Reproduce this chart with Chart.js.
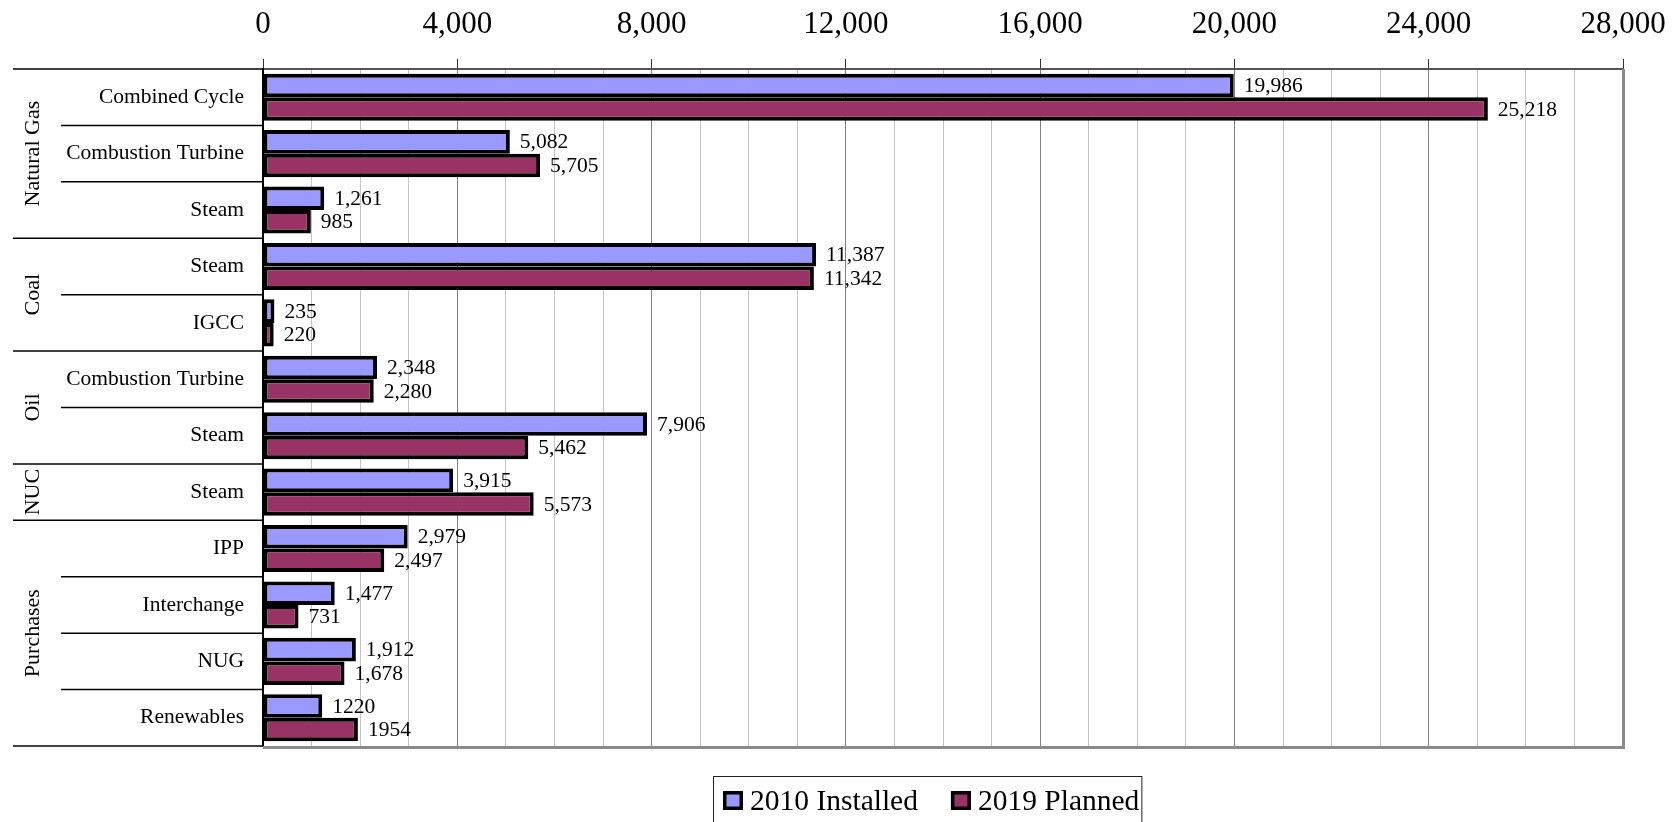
<!DOCTYPE html>
<html>
<head>
<meta charset="utf-8">
<script src="https://cdn.jsdelivr.net/npm/chart.js@4/dist/chart.umd.min.js"></script>
<style>
  html, body { margin: 0; padding: 0; background: #fff; overflow: hidden; }
  #wrap { width: 1678px; height: 822px; position: relative; }
</style>
</head>
<body>
<div id="wrap"><canvas id="c"></canvas></div>
<script>
// Capacity by fuel type and technology (MW)
const categories = ['Combined Cycle', 'Combustion Turbine', 'Steam', 'Steam', 'IGCC',
                    'Combustion Turbine', 'Steam', 'Steam', 'IPP', 'Interchange', 'NUG', 'Renewables'];
const groupNames = ['Natural Gas', 'Coal', 'Oil', 'NUC', 'Purchases'];
const groupSizes = [3, 2, 2, 1, 4];
const installed2010 = [19986, 5082, 1261, 11387, 235, 2348, 7906, 3915, 2979, 1477, 1912, 1220];
const planned2019  = [25218, 5705, 985, 11342, 220, 2280, 5462, 5573, 2497, 731, 1678, 1954];
// Renewables values are printed without a thousands separator
const useSeparator = [true, true, true, true, true, true, true, true, true, true, true, false];
const seriesNames = ['2010 Installed', '2019 Planned'];
const labelledTicks = [0, 4000, 8000, 12000, 16000, 20000, 24000, 28000];

const SERIF = "'Liberation Serif', 'Times New Roman', serif";
Chart.defaults.font.family = SERIF;
Chart.defaults.color = '#000';

// Row dividers, group captions and the heavy right/bottom frame
const framePlugin = {
  id: 'framePlugin',
  afterDraw(chart) {
    const { ctx, chartArea: a, scales: { y } } = chart;
    const n = categories.length;
    const boundary = i => i === 0 ? a.top : i === n ? a.bottom
      : (y.getPixelForValue(i - 1) + y.getPixelForValue(i)) / 2;

    const groupEdges = new Set([0]);
    let acc = 0;
    groupSizes.forEach(s => { acc += s; groupEdges.add(acc); });

    ctx.save();
    ctx.strokeStyle = '#000';
    ctx.lineWidth = 1.5;
    for (let k = 0; k <= n; k++) {
      const yy = boundary(k);
      const x0 = groupEdges.has(k) ? 13 : 61;
      ctx.beginPath();
      ctx.moveTo(x0, yy);
      ctx.lineTo(a.left, yy);
      ctx.stroke();
    }

    // group captions, rotated
    ctx.fillStyle = '#000';
    ctx.font = '22px ' + SERIF;
    ctx.textAlign = 'center';
    ctx.textBaseline = 'middle';
    let start = 0;
    groupNames.forEach((name, g) => {
      const end = start + groupSizes[g];
      const cy = (boundary(start) + boundary(end)) / 2;
      ctx.save();
      ctx.translate(33, cy);
      ctx.rotate(-Math.PI / 2);
      ctx.fillText(name, 0, 0);
      ctx.restore();
      start = end;
    });

    // heavy gray frame on right and bottom
    ctx.strokeStyle = '#8a8a8a';
    ctx.lineWidth = 3;
    ctx.beginPath();
    ctx.moveTo(a.right + 0.5, a.top);
    ctx.lineTo(a.right + 0.5, a.bottom + 1.5);
    ctx.lineTo(a.left, a.bottom + 1.5);
    ctx.stroke();
    ctx.restore();
  }
};

// Value printed next to each bar end
const valueLabels = {
  id: 'valueLabels',
  afterDatasetsDraw(chart) {
    const ctx = chart.ctx;
    ctx.save();
    ctx.font = '21.5px ' + SERIF;
    ctx.fillStyle = '#000';
    ctx.textAlign = 'left';
    ctx.textBaseline = 'middle';
    chart.data.datasets.forEach((ds, di) => {
      chart.getDatasetMeta(di).data.forEach((bar, i) => {
        const v = ds.data[i];
        const txt = useSeparator[i] ? v.toLocaleString('en-US') : String(v);
        ctx.fillText(txt, bar.x + 10, bar.y + 1);
      });
    });
    ctx.restore();
  }
};

// Framed legend below the plot
const legendBox = {
  id: 'legendBox',
  afterDraw(chart) {
    const ctx = chart.ctx;
    ctx.save();
    ctx.font = '29.5px ' + SERIF;
    ctx.textBaseline = 'alphabetic';
    const left = 713, top = 776, baseline = 810;
    let x = left + 10;
    chart.data.datasets.forEach((ds, i) => {
      ctx.fillStyle = ds.backgroundColor;
      ctx.fillRect(x, 791, 20, 19);
      ctx.strokeStyle = '#000';
      ctx.lineWidth = 3.5;
      ctx.strokeRect(x + 1.75, 792.75, 16.5, 15.5);
      x += 27;
      ctx.fillStyle = '#000';
      ctx.fillText(ds.label, x, baseline);
      x += ctx.measureText(ds.label).width + (i < chart.data.datasets.length - 1 ? 33 : 0);
    });
    const right = x + 2;
    ctx.strokeStyle = '#222';
    ctx.lineWidth = 1;
    ctx.strokeRect(left + 0.5, top + 0.5, right - left, 70);
    ctx.restore();
  }
};

new Chart(document.getElementById('c'), {
  type: 'bar',
  data: {
    labels: categories,
    datasets: [
      { label: seriesNames[0], data: installed2010, backgroundColor: '#9999FF',
        borderColor: '#000', borderWidth: 4, borderSkipped: false },
      { label: seriesNames[1], data: planned2019, backgroundColor: '#993366',
        borderColor: '#000', borderWidth: 4, borderSkipped: false }
    ]
  },
  options: {
    indexAxis: 'y',
    responsive: true,
    maintainAspectRatio: false,
    animation: false,
    devicePixelRatio: 1,
    layout: { padding: { left: 0, right: 55, top: 0, bottom: 76 } },
    datasets: { bar: { categoryPercentage: 0.835, barPercentage: 1.0 } },
    plugins: {
      legend: { display: false },
      tooltip: { enabled: false }
    },
    scales: {
      x: {
        position: 'top',
        min: 0,
        max: 28000,
        afterFit(scale) {
          scale.height = 69;
          scale.paddingLeft = 0;
          scale.paddingRight = 0;
        },
        ticks: {
          stepSize: 1000,
          autoSkip: false,
          maxRotation: 0,
          padding: 16,
          font: { size: 31 },
          color: '#000',
          callback: v => labelledTicks.includes(v) ? v.toLocaleString('en-US') : ''
        },
        grid: {
          color: ctx => labelledTicks.includes(ctx.tick && ctx.tick.value) ? '#808080' : '#c4c4c4',
          lineWidth: 1,
          tickLength: 10,
          tickColor: ctx => labelledTicks.includes(ctx.tick && ctx.tick.value) ? '#333' : 'rgba(0,0,0,0)'
        },
        border: { color: '#555', width: 2 }
      },
      y: {
        afterFit(scale) { scale.width = 263; },
        ticks: {
          padding: 11,
          font: { size: 21.5 },
          color: '#000'
        },
        grid: { display: false },
        border: { display: true, color: '#000', width: 2 }
      }
    }
  },
  plugins: [framePlugin, valueLabels, legendBox]
});
</script>
</body>
</html>
